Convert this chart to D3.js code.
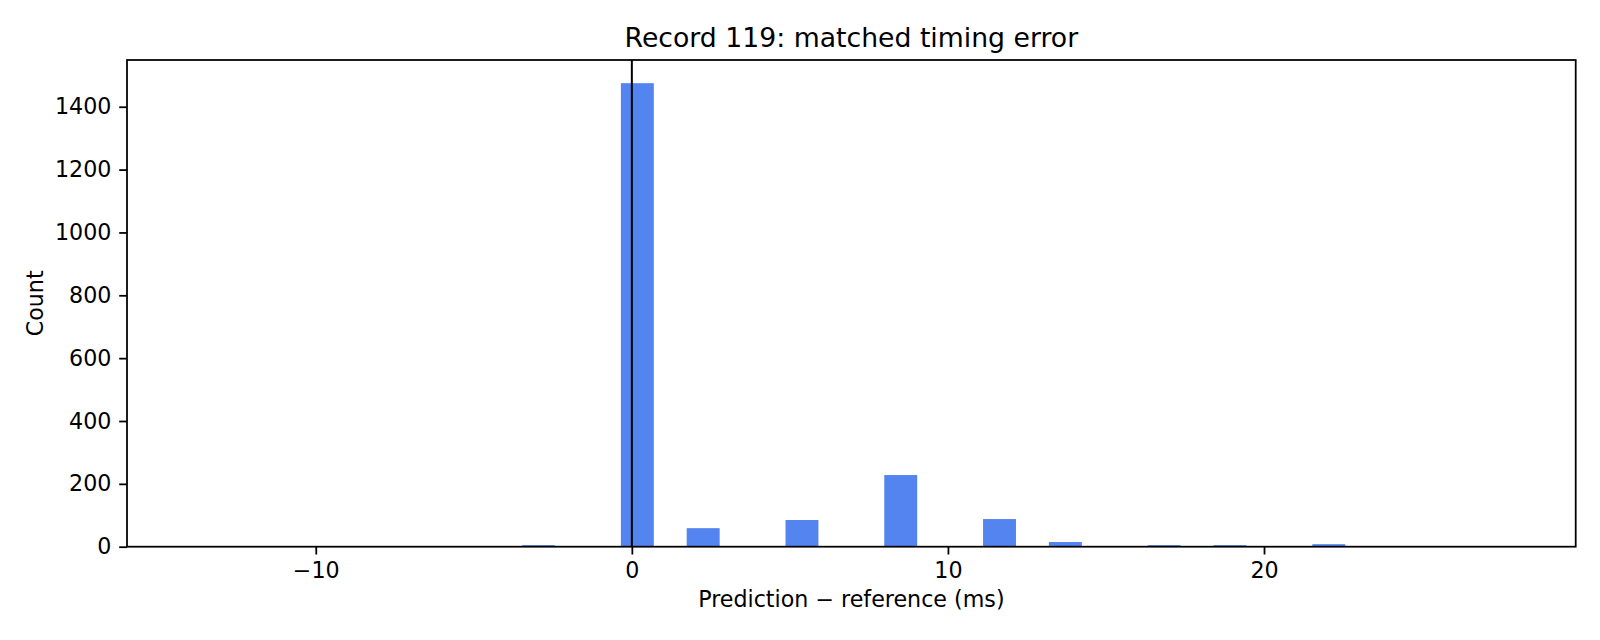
<!doctype html>
<html lang="en">
<head>
    <meta charset="UTF-8">
    <title>Record 119: matched timing error</title>
    <style>
        body { margin: 0; background: #fff; }
        svg { display: block; font-family: "DejaVu Sans", sans-serif; }
        .tick text { font-size: 22.2px; fill: #000; }
        .tick line { stroke: #000; stroke-width: 1.78px; }
    </style>
</head>
<body>
<div class="chart"></div>
<script src="https://d3js.org/d3.v7.min.js"></script>
<script>
  // histogram bins: left edge (ms) and count
  const binStarts = [-13.889, -3.472, -0.347, 1.736, 4.861, 7.986, 11.111, 13.194, 16.319, 18.403, 21.528, 24.653, 26.736]
  const counts = [1, 5, 1475, 59, 85, 228, 88, 15, 5, 5, 8, 1, 1]
  const binWidth = 1.0417
  const xTicks = [-10, 0, 10, 20]
  const yTicks = [0, 200, 400, 600, 800, 1000, 1200, 1400]

  ;(function () {
    const bins = binStarts.map((s, i) => ({ x0: s, x1: s + binWidth, n: counts[i] }))

    const width = 1600
    const height = 640
    const m = { left: 127, right: 1575.7, top: 60, bottom: 546.7 }

    const x = d3.scaleLinear().domain([-15.972, 29.861]).range([m.left, m.right])
    const y = d3.scaleLinear().domain([0, 1548.75]).range([m.bottom, m.top])

    const svg = d3.select('.chart')
      .append('svg')
      .attr('width', width)
      .attr('height', height)

    svg.selectAll('.bar')
      .data(bins)
      .enter()
      .append('rect')
      .attr('class', 'bar')
      .attr('x', d => x(d.x0))
      .attr('width', d => x(d.x1) - x(d.x0))
      .attr('y', d => y(d.n))
      .attr('height', d => y(0) - y(d.n))
      .style('fill', '#5384f0')

    // zero line
    svg.append('line')
      .attr('x1', x(0)).attr('x2', x(0))
      .attr('y1', m.top).attr('y2', m.bottom)
      .style('stroke', '#000')
      .style('stroke-width', 2)

    const fmt = d3.format('d')
    svg.append('g')
      .attr('transform', `translate(0, ${m.bottom})`)
      .call(d3.axisBottom(x).tickValues(xTicks).tickSize(7.8).tickPadding(7.8)
        .tickFormat(d => fmt(d).replace('-', '\u2212')))
      .call(g => g.select('.domain').remove())

    svg.append('g')
      .attr('transform', `translate(${m.left}, 0)`)
      .call(d3.axisLeft(y).tickValues(yTicks).tickSize(7.8).tickPadding(7.8).tickFormat(fmt))
      .call(g => g.select('.domain').remove())

    svg.selectAll('g').attr('font-family', null).attr('font-size', null)

    // frame
    svg.append('rect')
      .attr('x', m.left).attr('y', m.top)
      .attr('width', m.right - m.left).attr('height', m.bottom - m.top)
      .style('fill', 'none')
      .style('stroke', '#000')
      .style('stroke-width', 1.78)

    svg.append('text')
      .attr('x', (m.left + m.right) / 2)
      .attr('y', 46.7)
      .attr('text-anchor', 'middle')
      .style('font-size', '26.7px')
      .text('Record 119: matched timing error')

    svg.append('text')
      .attr('x', (m.left + m.right) / 2)
      .attr('y', 607)
      .attr('text-anchor', 'middle')
      .style('font-size', '22.2px')
      .text('Prediction \u2212 reference (ms)')

    svg.append('text')
      .attr('transform', `translate(43, ${(m.top + m.bottom) / 2}) rotate(-90)`)
      .attr('text-anchor', 'middle')
      .style('font-size', '22.2px')
      .text('Count')
  })()
</script>
</body>
</html>
